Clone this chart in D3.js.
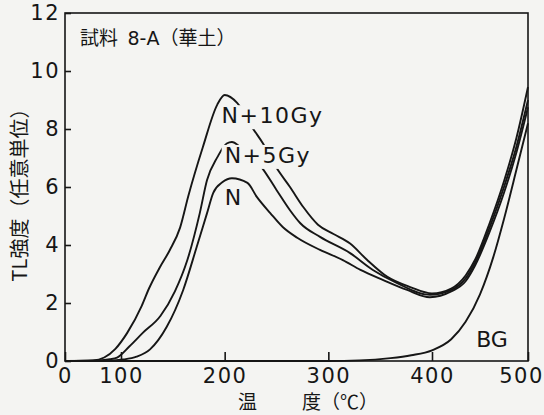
<!DOCTYPE html>
<html>
<head>
<meta charset="utf-8">
<script src="https://cdn.jsdelivr.net/npm/d3@7"></script>
<style>
    body { margin: 0; background: #f4f4f2; }
    svg { display: block; }
</style>
</head>
<body>
<svg></svg>
<script>
//constants
const W = 544, H = 415;
const plot = {left: 65, right: 528, top: 13, bottom: 361};
const ink = "#161616";
const bg = "#f4f4f2";
const latin = "DejaVu Sans, 'Noto Sans CJK JP', sans-serif";
const cjk = "'Noto Sans CJK JP', sans-serif";

//data (temperature in degC, TL intensity in arbitrary units)
const tempN10 = [0, 50, 70, 90, 106, 120, 127, 137, 147, 157, 165, 179, 193, 200, 212, 227, 237, 250, 263, 276, 290, 305, 321, 337, 357, 379, 400, 420, 435, 445, 460, 475, 488, 500];
const valN10  = [0, 0.02, 0.12, 0.42, 0.97, 1.9, 2.5, 3.2, 3.82, 4.6, 5.7, 7.38, 8.85, 9.17, 8.9, 8.03, 7.5, 6.66, 6.0, 5.3, 4.7, 4.38, 4.05, 3.5, 2.9, 2.55, 2.33, 2.5, 2.95, 3.5, 4.75, 6.2, 7.7, 9.45];

const tempN5 = [0, 60, 80, 93, 108, 121, 138, 152, 164, 176, 183, 193, 202, 207, 215, 236, 250, 263, 273, 292, 321, 343, 366, 398, 420, 435, 445, 460, 475, 488, 500];
const valN5  = [0, 0.02, 0.06, 0.12, 0.5, 0.97, 1.55, 2.4, 3.48, 5.1, 6.24, 7.03, 7.5, 7.55, 7.38, 6.66, 5.9, 5.2, 4.75, 4.28, 3.72, 3.14, 2.69, 2.28, 2.45, 2.85, 3.4, 4.6, 6.0, 7.4, 9.0];

const tempN = [0, 80, 102, 115, 128, 144, 160, 173, 183, 189, 198, 207, 222, 231, 244, 256, 270, 292, 314, 331, 353, 376, 398, 420, 435, 445, 460, 475, 488, 500];
const valN  = [0, 0.01, 0.05, 0.15, 0.4, 1.17, 2.45, 3.93, 5.1, 5.8, 6.17, 6.3, 6.14, 5.66, 5.1, 4.62, 4.25, 3.83, 3.48, 3.14, 2.79, 2.45, 2.2, 2.4, 2.75, 3.3, 4.45, 5.8, 7.2, 8.75];

const tempBG = [0, 300, 330, 360, 380, 400, 420, 435, 450, 464, 475, 488, 500];
const valBG  = [0, 0, 0.02, 0.1, 0.2, 0.37, 0.75, 1.35, 2.3, 3.6, 4.9, 6.6, 8.2];

const seriesNames = ["N+10Gy", "N+5Gy", "N", "BG"];
const xTicks = [0, 100, 200, 300, 400, 500];
const yTicks = [0, 2, 4, 6, 8, 10, 12];

const title = "試料\u20028-A（華土）";
const yTitle = "TL強度（任意単位）";

//main
function main() {

    let series = [
        {name: seriesNames[0], pts: tempN10.map((t, i) => [t, valN10[i]])},
        {name: seriesNames[1], pts: tempN5.map((t, i) => [t, valN5[i]])},
        {name: seriesNames[2], pts: tempN.map((t, i) => [t, valN[i]])},
        {name: seriesNames[3], pts: tempBG.map((t, i) => [t, valBG[i]])}
    ];

    //label anchors, in data units
    let labelAt = {
        "N+10Gy": [197, 8.2],
        "N+5Gy": [200, 6.83],
        "N": [200, 5.38],
        "BG": [446, 0.48]
    };

    //scales (the printed x axis is squeezed below 100)
    let xScale = d3.scaleLinear()
        .domain([0, 100, 400, 500])
        .range([plot.left, 121, 432, plot.right]);

    let yScale = d3.scaleLinear()
        .domain([0, 12])
        .range([plot.bottom, plot.top]);

    //canvas
    let svg = d3.select("svg")
        .attr("width", W)
        .attr("height", H)
        .style("background-color", bg);

    //curves
    let line = d3.line()
        .x(d => xScale(d[0]))
        .y(d => yScale(d[1]))
        .curve(d3.curveMonotoneX);

    svg.append("g")
        .selectAll("path")
        .data(series)
        .enter()
        .append("path")
        .attr("d", d => line(d.pts))
        .attr("fill", "none")
        .attr("stroke", ink)
        .attr("stroke-width", 1.9)
        .attr("stroke-linejoin", "round");

    //axes
    let xAxis = d3.axisBottom(xScale)
        .tickValues(xTicks)
        .tickSize(-9)
        .tickSizeOuter(0)
        .tickPadding(7);

    let gx = svg.append("g")
        .attr("transform", "translate(0," + plot.bottom + ")")
        .call(xAxis);

    let yAxis = d3.axisLeft(yScale)
        .tickValues(yTicks)
        .tickSize(-6)
        .tickSizeOuter(0)
        .tickPadding(5);

    let gy = svg.append("g")
        .attr("transform", "translate(" + plot.left + ",0)")
        .call(yAxis);

    [gx, gy].forEach(g => {
        g.select(".domain").remove();
        g.style("color", ink);
        g.selectAll("line").attr("stroke-width", 1.6);
        g.selectAll("text")
            .attr("font-family", latin)
            .attr("font-size", "21px")
            .attr("letter-spacing", "1.5px");
    });
    gx.selectAll("text").filter(d => d == 500).attr("dx", -7);

    //frame
    svg.append("rect")
        .attr("x", plot.left)
        .attr("y", plot.top)
        .attr("width", plot.right - plot.left)
        .attr("height", plot.bottom - plot.top)
        .attr("fill", "none")
        .attr("stroke", ink)
        .attr("stroke-width", 1.6);

    //curve labels, on a patch of paper that hides the curves under them
    let labels = svg.append("g");
    seriesNames.forEach(name => {
        let g = labels.append("g");
        let t = g.append("text")
            .attr("x", xScale(labelAt[name][0]))
            .attr("y", yScale(labelAt[name][1]))
            .attr("font-family", latin)
            .attr("font-size", "22px")
            .attr("letter-spacing", name == "BG" ? "0px" : "1.5px")
            .attr("fill", ink)
            .text(name);
        let b = t.node().getBBox();
        g.insert("rect", "text")
            .attr("x", b.x - 3)
            .attr("y", b.y + 2)
            .attr("width", b.width + 6)
            .attr("height", b.height - 1)
            .attr("fill", bg);
    });

    //title
    svg.append("text")
        .attr("x", 80)
        .attr("y", 45)
        .attr("font-family", latin)
        .attr("font-size", "19px")
        .attr("fill", ink)
        .text(title);

    //axes labels
    svg.append("text")
        .attr("transform", "translate(18,190) rotate(-90)")
        .attr("text-anchor", "middle")
        .attr("dominant-baseline", "central")
        .attr("font-family", cjk)
        .attr("font-size", "20px")
        .attr("fill", ink)
        .text(yTitle);

    svg.append("text")
        .attr("x", 238)
        .attr("y", 409)
        .attr("font-family", cjk)
        .attr("font-size", "19px")
        .attr("fill", ink)
        .text("温");

    svg.append("text")
        .attr("x", 302)
        .attr("y", 409)
        .attr("font-family", cjk)
        .attr("font-size", "19px")
        .attr("fill", ink)
        .text("度（℃）");
}

main();
</script>
</body>
</html>
